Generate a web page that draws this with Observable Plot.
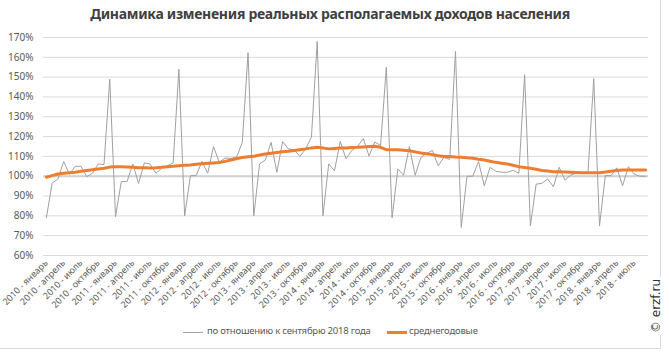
<!DOCTYPE html>
<html><head><meta charset="utf-8">
<script src="https://cdn.jsdelivr.net/npm/d3@7"></script>
<script src="https://cdn.jsdelivr.net/npm/@observablehq/plot@0.6"></script>
<style>
body{margin:0;background:#fff;}
#wrap{position:relative;width:669px;height:352px;overflow:hidden;font-family:"Noto Sans",sans-serif;}
#title{position:absolute;left:0;width:660px;top:4px;text-align:center;font-weight:bold;font-size:14px;color:#404040;letter-spacing:-0.3px;}
#chart{position:absolute;left:0;top:0;}
#legend{position:absolute;top:324px;left:0;width:660px;font-size:9.5px;color:#595959;letter-spacing:-0.2px;}
.li{position:absolute;top:0;white-space:nowrap;}
.sw{position:absolute;top:8px;height:0;}
#frame{position:absolute;left:-2px;top:-2px;width:662px;height:350px;border-right:1px solid #d9d9d9;border-bottom:1px solid #d9d9d9;}
#copy{position:absolute;left:656px;top:306px;transform:translate(-50%,-50%) rotate(-90deg);font-size:12px;color:#333;white-space:nowrap;background:#fff;padding:0 2px;font-family:"DejaVu Sans",sans-serif;}
</style></head>
<body><div id="wrap">
<div id="frame"></div>
<div id="title">Динамика изменения реальных располагаемых доходов населения</div>
<div id="chart"></div>
<div id="legend">
  <div class="sw" style="left:183px;width:20px;border-top:1px solid #a0a0a0;"></div>
  <div class="li" style="left:207px;">по отношению к сентябрю 2018 года</div>
  <div class="sw" style="left:387px;top:7px;width:20px;border-top:3px solid #ED7D31;"></div>
  <div class="li" style="left:409px;">среднегодовые</div>
</div>
<div id="copy">© erzf.ru</div>
</div>
<script>
const months = ["январь","февраль","март","апрель","май","июнь","июль","август","сентябрь","октябрь","ноябрь","декабрь"];
const years = [2010,2011,2012,2013,2014,2015,2016,2017,2018];
const lastMonthCount = 105; // январь 2010 – сентябрь 2018
const yTicks = [60,70,80,90,100,110,120,130,140,150,160,170];

const relSep2018 = [
 79,96.5,98.6,107.4,101,105,105,99.8,101.5,106.2,105.9,149,
 79.6,97.3,97.3,106.2,96.4,106.7,106.2,101.5,104,105.3,106.7,154,
 80,100.3,100.3,107.5,101.5,115,107,109.2,109,109.6,117,162.3,
 80,106.2,108.2,117.1,102,117.5,113.8,113.3,110,113.8,119.7,168,
 80,106.2,102.8,117.6,108.8,113,115,119,110.2,117.3,115.5,155,
 79,103.7,100.5,115,100.5,109.5,111.5,113,105.3,109.5,108.5,163,
 74.2,100,100,107.4,95.2,104.5,102.5,102,102,103,101.5,151.2,
 75,96,96.4,98.6,94.7,104.5,98,100.6,101.6,102,102,149.2,
 75,100.3,100.3,104.2,95.2,104.8,101.1,100,100
];
const annualAvg = [
 99.5,100.3,101.1,101.5,101.8,102.0,102.5,102.9,103.3,103.7,104.0,104.6,
 104.8,104.8,104.7,104.5,104.3,104.3,104.2,104.3,104.5,104.8,105.0,105.3,
 105.5,105.7,106.0,106.3,106.5,106.7,106.9,107.5,108.2,108.8,109.5,109.8,
 110.1,110.7,111.2,111.6,112.0,112.3,112.6,113.0,113.4,113.8,114.3,114.6,
 114.2,113.8,114.0,114.2,114.3,114.5,114.6,114.8,115.0,115.1,114.6,113.4,
 113.3,113.3,113.1,112.9,112.3,111.7,111.3,110.9,110.3,109.9,109.9,109.7,
 109.6,109.3,109.1,108.6,108.2,107.6,107.0,106.6,106.2,105.5,104.8,104.4,
 104.0,103.5,102.9,102.6,102.3,102.2,102.1,102.0,101.9,101.8,101.8,101.8,
 101.8,102.1,102.5,102.9,103.2,103.2,103.2,103.2,103.2
];

const periods = [];
for (const y of years) for (const m of months) if (periods.length < lastMonthCount) periods.push(`${y} - ${m}`);
const tickLabels = periods.filter((p,i)=>i%3===0);
const data = periods.map((p,i)=>({p, v: relSep2018[i], a: annualAvg[i]}));

const chart = Plot.plot({
  width: 669, height: 320,
  marginTop: 37, marginLeft: 43, marginRight: 21, marginBottom: 65,
  style: {fontFamily: "'Noto Sans', sans-serif", fontSize: "9px", color: "#595959", background: "transparent", overflow: "visible"},
  x: {type: "point", domain: periods, padding: 0.5, label: null},
  y: {domain: [60,170], label: null},
  marks: [
    Plot.gridY(yTicks, {stroke: "#d9d9d9", strokeOpacity: 1}),
    Plot.ruleY([100], {stroke: "#d0d0d0", strokeWidth: 2}),
    Plot.axisY({ticks: yTicks, tickSize: 0, tickPadding: 10, tickFormat: d => d + "%", fontSize: 10}),
    Plot.axisX({ticks: tickLabels, tickRotate: -45, tickSize: 0, tickPadding: 6, fontSize: 9}),
    Plot.lineY(data, {x: "p", y: "v", stroke: "#a0a0a0", strokeWidth: 1}),
    Plot.lineY(data, {x: "p", y: "a", stroke: "#ED7D31", strokeWidth: 3})
  ]
});
document.getElementById("chart").appendChild(chart);
</script>
</body></html>
